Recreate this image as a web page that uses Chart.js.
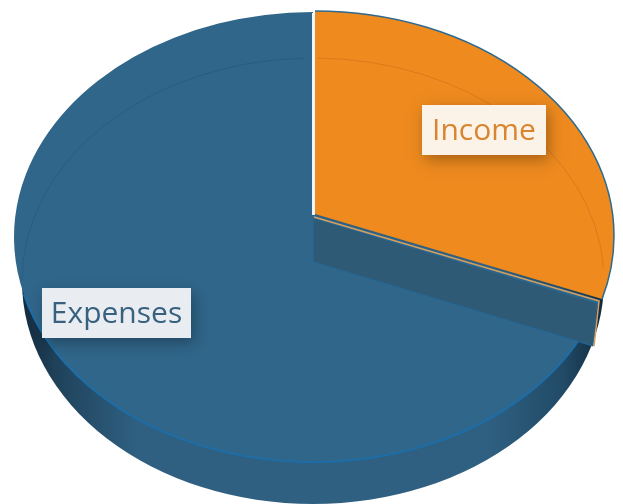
<!DOCTYPE html>
<html>
<head>
<meta charset="utf-8">
<title>Income and expenses</title>
<style>
    html, body { margin: 0; padding: 0; background: #fff; }
    canvas { display: block; }
</style>
<script src="https://cdn.jsdelivr.net/npm/chart.js@4"></script>
</head>
<body>
<canvas id="pie_chart" width="623" height="504"></canvas>
<script>
const labels = ["Income", "Expenses"];
const values = [31, 69];
const slice_colors = ["#ee8a1e", "#30668a"];
const text_colors = ["#d9842f", "#37617f"];
const box_colors = ["#fcf3e8", "#e9edf1"];
// left, top, width, height of the two label boxes
const boxes = [[422, 105, 124, 50], [42, 288, 149, 50]];

// the look of the tilted pie
const top_face = { x: 313, y: 237, rx: 299, ry: 225 };
const bottom_face = { x: 313, y: 281, rx: 291, ry: 223 };
const lean = -0.098;   // pulls the pie centre up, like the perspective in the picture
const wall_drop = 46;

function face_angle(a) {
    // where a pie angle lands on the ellipse once the perspective is applied
    let den = 1 + lean * Math.sin(a);
    let px = Math.cos(a) * Math.sqrt(1 - lean * lean) / den;
    let py = (Math.sin(a) + lean) / den;
    return Math.atan2(py, px);
}

function edge_point(a) {
    let t = face_angle(a);
    return [top_face.x + top_face.rx * Math.cos(t), top_face.y + top_face.ry * Math.sin(t)];
}

const apex = [top_face.x, top_face.y + lean * top_face.ry];

// slices keep the angles Chart.js works out, only the outline changes
Chart.ArcElement.prototype.draw = function (ctx) {
    let income = this.$context.dataIndex == 0;
    let t1 = face_angle(this.startAngle);
    let t2 = face_angle(this.endAngle);
    ctx.save();
    if (income) ctx.translate(2, -1);
    ctx.beginPath();
    ctx.moveTo(apex[0], apex[1]);
    ctx.ellipse(top_face.x, top_face.y, top_face.rx, top_face.ry, 0, t1, t2);
    ctx.closePath();
    ctx.fillStyle = this.options.backgroundColor;
    ctx.fill();
    ctx.beginPath();
    if (income) {
        ctx.ellipse(top_face.x, top_face.y, top_face.rx, top_face.ry, 0, t1, t2);
        ctx.strokeStyle = "#2f6a8e";
        ctx.lineWidth = 1.5;
    } else {
        ctx.ellipse(top_face.x, top_face.y, top_face.rx, top_face.ry, 0, t1 + 0.12, t1 + 2.6);
        ctx.strokeStyle = "#1d6ea8";
        ctx.lineWidth = 2;
    }
    ctx.stroke();
    ctx.restore();
};

const pie_body = {
    id: "pie_body",
    beforeDatasetsDraw(chart) {
        let ctx = chart.ctx;
        let wall = ctx.createLinearGradient(20, 0, 605, 0);
        wall.addColorStop(0, "#12293c");
        wall.addColorStop(0.06, "#1f415a");
        wall.addColorStop(0.2, "#2f6081");
        wall.addColorStop(0.8, "#2f6081");
        wall.addColorStop(0.93, "#214a66");
        wall.addColorStop(1, "#12293c");
        ctx.fillStyle = wall;
        ctx.beginPath();
        ctx.ellipse(bottom_face.x, bottom_face.y, bottom_face.rx, bottom_face.ry, 0, 0, Math.PI * 2);
        ctx.fill();
    },
    afterDatasetsDraw(chart) {
        let ctx = chart.ctx;
        let arcs = chart.getDatasetMeta(0).data;
        let edge = edge_point(arcs[0].endAngle);

        // inner wall under the income slice
        ctx.beginPath();
        ctx.moveTo(apex[0], apex[1] + 3);
        ctx.lineTo(edge[0] - 3, edge[1] + 3);
        ctx.lineTo(edge[0] - 7, edge[1] + wall_drop);
        ctx.lineTo(apex[0], apex[1] + wall_drop + 1);
        ctx.closePath();
        ctx.fillStyle = "#2e5a75";
        ctx.fill();
        ctx.strokeStyle = "#24699a";
        ctx.lineWidth = 1;
        ctx.stroke();

        // thin light seam along the income slice
        ctx.beginPath();
        ctx.moveTo(apex[0] + 1, apex[1] + 2);
        ctx.lineTo(edge[0] - 1, edge[1] + 1);
        ctx.lineTo(edge[0] - 6, edge[1] + wall_drop);
        ctx.strokeStyle = "#d9a05c";
        ctx.lineWidth = 1.5;
        ctx.stroke();

        // white gap at twelve o'clock
        ctx.beginPath();
        ctx.moveTo(apex[0] + 0.5, top_face.y - top_face.ry + 1);
        ctx.lineTo(apex[0] + 0.5, apex[1]);
        ctx.strokeStyle = "#eef7fb";
        ctx.lineWidth = 3;
        ctx.stroke();

        // far rim showing faintly through the top
        ctx.beginPath();
        ctx.ellipse(bottom_face.x, bottom_face.y, bottom_face.rx, bottom_face.ry, 0, Math.PI * 1.0, Math.PI * 1.49);
        ctx.strokeStyle = "rgba(30,80,115,0.45)";
        ctx.lineWidth = 1;
        ctx.stroke();
        ctx.beginPath();
        ctx.ellipse(bottom_face.x, bottom_face.y, bottom_face.rx, bottom_face.ry, 0, Math.PI * 1.505, Math.PI * 1.98);
        ctx.strokeStyle = "rgba(200,105,25,0.5)";
        ctx.stroke();

        // label boxes
        for (let i = 0; i < labels.length; i++) {
            let b = boxes[i];
            ctx.save();
            ctx.shadowColor = "rgba(0,0,0,0.3)";
            ctx.shadowBlur = 14;
            ctx.shadowOffsetX = 3;
            ctx.shadowOffsetY = 5;
            ctx.fillStyle = box_colors[i];
            ctx.fillRect(b[0], b[1], b[2], b[3]);
            ctx.restore();
            ctx.font = "30px 'Open Sans'";
            ctx.textAlign = "center";
            ctx.textBaseline = "middle";
            ctx.fillStyle = text_colors[i];
            ctx.fillText(chart.data.labels[i], b[0] + b[2] / 2, b[1] + b[3] / 2 + 1);
        }
    }
};

const pie_config = {
    type: "pie",
    data: {
        labels: labels,
        datasets: [{ data: values, backgroundColor: slice_colors, borderWidth: 0 }]
    },
    options: {
        responsive: false,
        animation: false,
        plugins: {
            legend: { display: false },
            tooltip: { enabled: false }
        }
    },
    plugins: [pie_body]
};

const pie_chart = new Chart(document.getElementById("pie_chart"), pie_config);
</script>
</body>
</html>
